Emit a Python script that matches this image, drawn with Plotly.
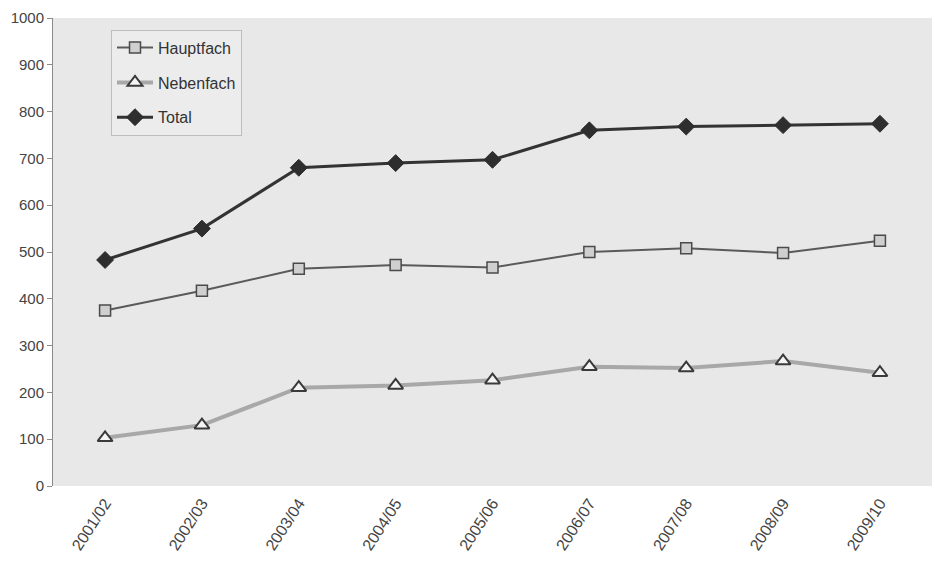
import plotly.graph_objects as go

# Studienjahre und Studierendenzahlen
years = ["2001/02", "2002/03", "2003/04", "2004/05", "2005/06",
         "2006/07", "2007/08", "2008/09", "2009/10"]
hauptfach = [375, 417, 464, 472, 467, 500, 508, 498, 524]
nebenfach = [103, 130, 210, 215, 226, 255, 252, 267, 242]
total = [483, 550, 680, 690, 697, 760, 768, 771, 774]
y_ticks = [0, 100, 200, 300, 400, 500, 600, 700, 800, 900, 1000]

fig = go.Figure()

fig.add_trace(go.Scatter(
    x=years, y=hauptfach, name="Hauptfach", mode="lines+markers",
    legendgroup="h",
    line=dict(color="#5a5a5a", width=2),
    marker=dict(symbol="square", size=11, color="#cfcfcf",
                line=dict(color="#4a4a4a", width=1.5)),
))
fig.add_trace(go.Scatter(
    x=years, y=nebenfach, name="Nebenfach", mode="lines+markers",
    legendgroup="n",
    line=dict(color="#a8a8a8", width=4),
    marker=dict(symbol="triangle-up", size=13, color="#f4f4f4",
                line=dict(color="#3a3a3a", width=2)),
))
fig.add_trace(go.Scatter(
    x=years, y=total, name="Total", mode="lines+markers",
    legendgroup="t",
    line=dict(color="#333333", width=3),
    marker=dict(symbol="diamond", size=13, color="#2e2e2e",
                line=dict(color="#2e2e2e", width=1)),
))

fig.update_layout(
    width=935, height=564,
    margin=dict(l=53, r=3, t=18, b=78),
    paper_bgcolor="white",
    plot_bgcolor="#e8e8e8",
    font=dict(family="Liberation Sans, Arial, sans-serif", size=15, color="#444444"),
    showlegend=True,
    legend=dict(
        x=0.066, y=0.975, xanchor="left", yanchor="top",
        bgcolor="#ececec", bordercolor="#bdbdbd", borderwidth=1,
        font=dict(size=16, color="#333333"),
        traceorder="grouped", tracegroupgap=11,
        itemwidth=36,
    ),
)

fig.update_xaxes(
    type="category", showgrid=False, zeroline=False, showline=False,
    ticks="", tickangle=-57, ticklabelstandoff=4,
    tickfont=dict(size=16, color="#444444"),
)
fig.update_yaxes(
    range=[0, 1000], tickvals=y_ticks, showgrid=False, zeroline=False,
    showline=True, linecolor="#8a8a8a", linewidth=1,
    ticks="outside", ticklen=5, tickcolor="#8a8a8a",
    tickfont=dict(size=15, color="#444444"),
)

fig.write_html("out.html")
